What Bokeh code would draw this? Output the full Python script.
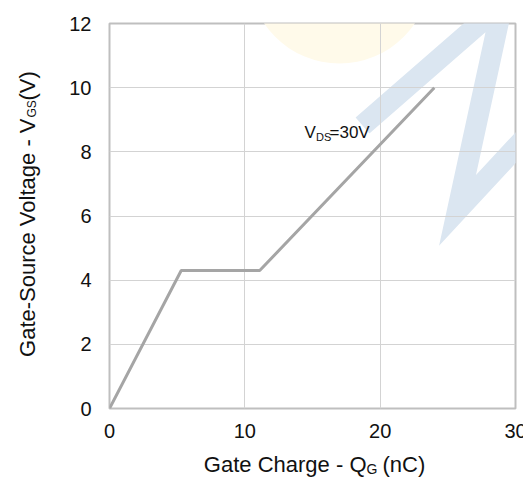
from bokeh.plotting import figure
from bokeh.models import Range1d, FixedTicker, Label
from bokeh.embed import file_html
from bokeh.resources import INLINE

# ---- data ----
gate_charge_nc = [0, 5.3, 11.1, 24.0]
vgs_volts = [0, 4.3, 4.3, 10.0]
x_ticks = [0, 10, 20, 30]
y_ticks = [0, 2, 4, 6, 8, 10, 12]

FONT = "Liberation Sans"
TXT = "#111111"

p = figure(frame_width=406, frame_height=385, x_range=Range1d(0, 30), y_range=Range1d(0, 12),
           output_backend="svg", toolbar_location=None,
           min_border_left=109, min_border_right=8, min_border_top=23, min_border_bottom=72)
p.background_fill_color = "white"
p.border_fill_color = "white"
p.outline_line_color = "#bfbfbf"
p.outline_line_width = 2

# picture-pixel -> data helpers (frame: x 109..515, y 23..408)
FX = 406 / 30.0
FY = 385 / 12.0
def dx(px):
    return (px - 109) / FX
def dy(py):
    return (408 - py) / FY

# faint background watermark
p.circle(x=[dx(339)], y=[dy(-28)], radius=91 / FX, fill_color="#fffaea",
         line_color=None, level="image")
wm_px = [362, 502, 457, 545]
wm_py = [125, 3, 210, 115]
p.line([dx(v) for v in wm_px], [dy(v) for v in wm_py], line_color="#dbe6f1",
       line_width=21, line_join="miter", line_cap="butt", level="image")

# axes
p.xaxis.ticker = FixedTicker(ticks=x_ticks)
p.yaxis.ticker = FixedTicker(ticks=y_ticks)
p.xgrid.ticker = FixedTicker(ticks=x_ticks)
p.ygrid.ticker = FixedTicker(ticks=y_ticks)
p.grid.grid_line_color = "#d3d3d3"
p.grid.grid_line_width = 1
p.axis.axis_line_color = None
p.axis.major_tick_line_color = None
p.axis.minor_tick_line_color = None
p.axis.major_label_text_font = FONT
p.axis.major_label_text_font_size = "20px"
p.axis.major_label_text_color = TXT
p.xaxis.major_label_standoff = 9
p.yaxis.major_label_standoff = 12

# curve
p.line(gate_charge_nc, vgs_volts, line_color="#a5a5a5", line_width=3)

def lab(text, x, y, size, align="left", angle=0, side=None):
    l = Label(text=text, x=x, y=y, text_font=FONT, text_font_size=size,
              text_color=TXT, text_align=align, text_baseline="middle",
              angle=angle, angle_units="deg")
    if side is None:
        p.add_layout(l)
    else:
        p.add_layout(l, side)

# x title (side panel so it is not clipped to the frame)
lab("Gate Charge - Q", dx(366), dy(464), "22px", "right", side="right")
lab("G", dx(366), dy(468), "14px", side="right")
lab("(nC)", dx(382), dy(464), "22px", side="right")

# y title
lab("Gate-Source Voltage - V", dx(27), dy(118), "22px", "right", 90, side="right")
lab("GS", dx(31), dy(117), "12px", "left", 90, side="right")
lab("(V)", dx(27), dy(100), "22px", "left", 90, side="right")

# curve annotation
lab("V", dx(304), dy(132), "17px")
lab("DS", dx(315.5), dy(136), "11px")
lab("=30V", dx(329), dy(132), "17px")

open("out.html", "w").write(file_html(p, INLINE))
